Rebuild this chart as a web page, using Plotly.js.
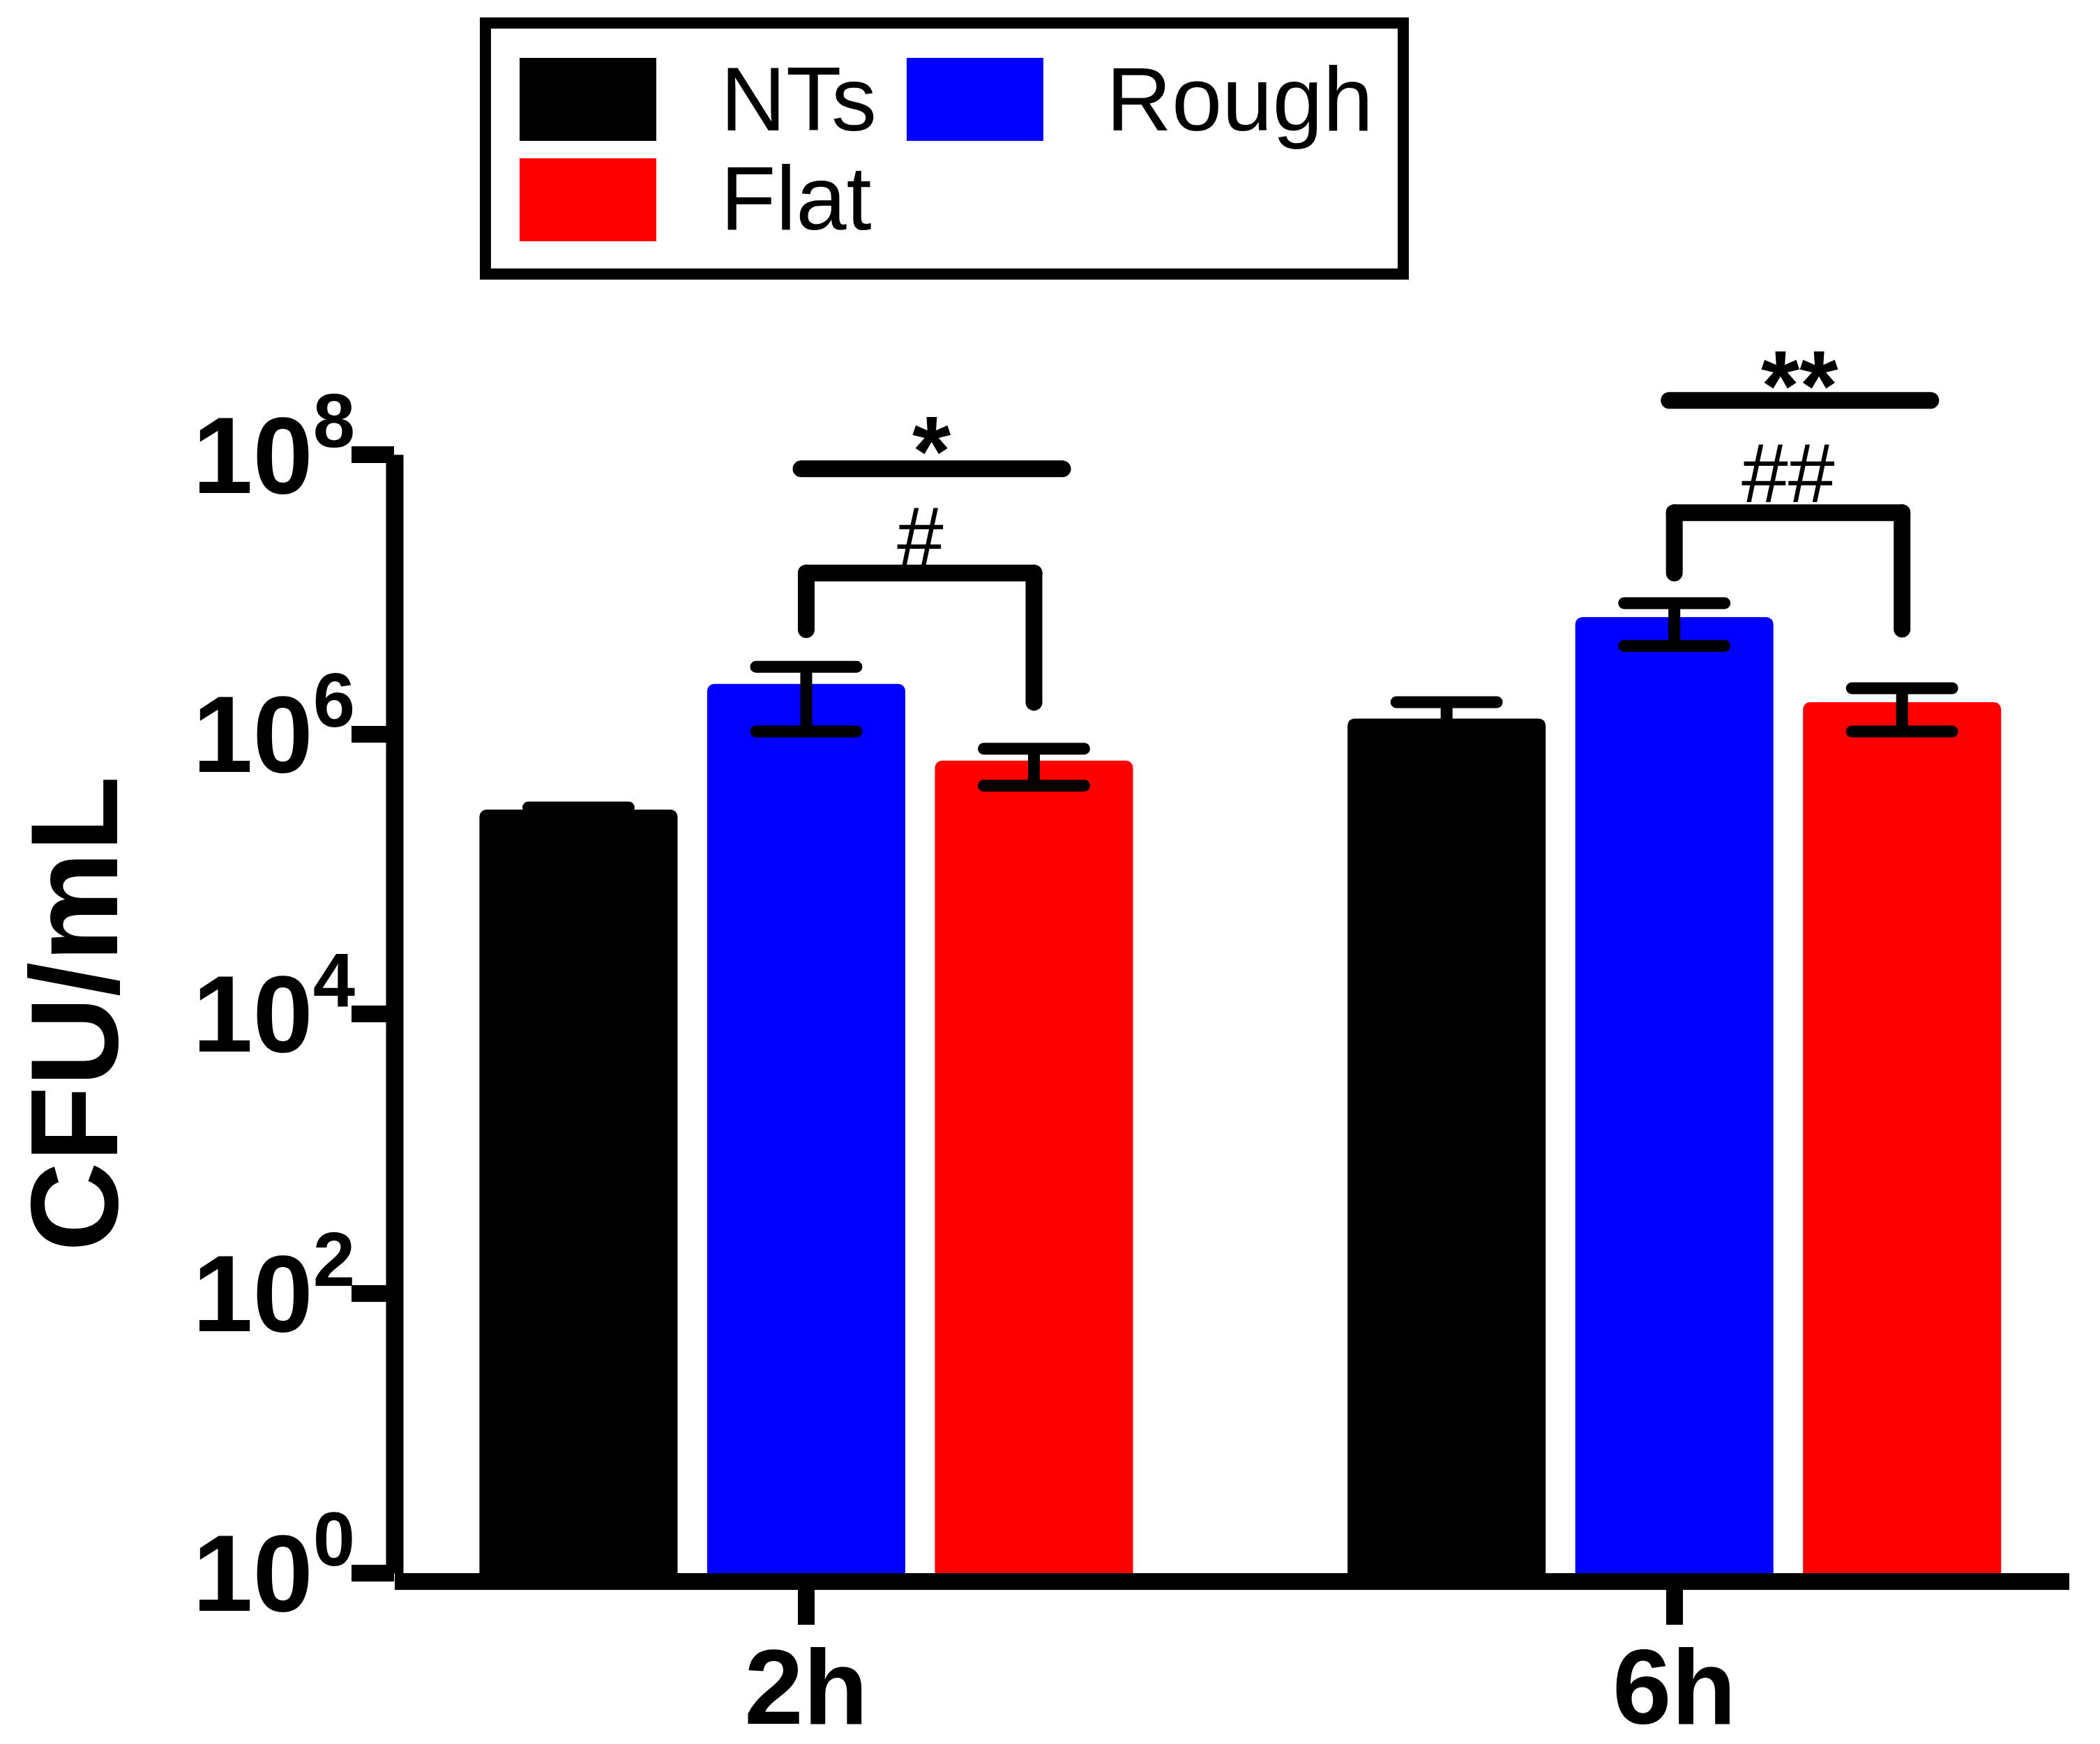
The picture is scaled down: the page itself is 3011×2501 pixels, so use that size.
<!DOCTYPE html>
<html>
<head>
<meta charset="utf-8">
<script src="https://cdn.plot.ly/plotly-3.0.1.min.js"></script>
<style>
  html, body { margin: 0; padding: 0; background: #fff; }
  .errorbar path { stroke-linecap: round; }
</style>
</head>
<body>
<div id="chart" style="width:3011px;height:2501px;"></div>
<script>
// data (CFU/mL, log axis)
var times = ["2h", "6h"];
var groups = ["NTs", "Rough", "Flat"];
var colours = ["#000000", "#0000ff", "#ff0000"];

var ntsMean = [2.9e5, 1.3e6];
var ntsPlus = [1.0e4, 4.0e5];
var ntsMinus = [1.0e4, 4.0e5];

var roughMean = [2.3e6, 6.9e6];
var roughPlus = [0.75e6, 1.8e6];
var roughMinus = [1.25e6, 2.6e6];

var flatMean = [6.5e5, 1.7e6];
var flatPlus = [1.4e5, 4.4e5];
var flatMinus = [2.2e5, 6.5e5];

var yTickVals = [1, 1e2, 1e4, 1e6, 1e8];
var yTickText = ["10<sup>0</sup>", "10<sup>2</sup>", "10<sup>4</sup>", "10<sup>6</sup>", "10<sup>8</sup>"];

// significance marks: [time index, left group, right group, text]
var bracketMarks = [[0, 1, 2, "#"], [1, 1, 2, "##"]];
var lineMarks = [[0, "*"], [1, "**"]];

var FONT = "Liberation Sans, Arial, sans-serif";

// plot box in pixels
var L = 566, R = 2967, B = 2256, T = 512;
var W = R - L, H = B - T;
function px(x) { return (x - L) / W; }
function py(y) { return (B - y) / H; }

var BARGAP = 0.213;
var slot = (1 - BARGAP) / 3;
function barX(t, g) { return t + (g - 1) * slot; }

function makeTrace(i, mean, plus, minus) {
  return {
    type: "bar",
    name: groups[i],
    x: times,
    y: mean,
    marker: { color: colours[i], line: { width: 0 } },
    error_y: {
      type: "data",
      symmetric: false,
      array: plus,
      arrayminus: minus,
      color: "#000",
      thickness: 17,
      width: 72
    },
    showlegend: false
  };
}

var traces = [
  makeTrace(0, ntsMean, ntsPlus, ntsMinus),
  makeTrace(1, roughMean, roughPlus, roughMinus),
  makeTrace(2, flatMean, flatPlus, flatMinus)
];

var shapes = [];
var annotations = [];

// y axis line, only up to 10^8
shapes.push({
  type: "line", xref: "paper", yref: "y",
  x0: 0, x1: 0, y0: 1, y1: 1e8,
  line: { color: "#000", width: 25 }
});

// brackets (#) — levels in log10 units, from the picture
var bracketTop = [7.155, 7.586];
var bracketLeftLow = [6.75, 7.155];
var bracketRightLow = [6.23, 6.753];
var bracketText = [7.42, 7.87];
bracketMarks.forEach(function (b, k) {
  var xa = barX(b[0], b[1]), xb = barX(b[0], b[2]);
  var top = Math.pow(10, bracketTop[k]);
  var st = { color: "#000", width: 24 };
  shapes.push({ type: "line", xref: "x", yref: "y", x0: xa, x1: xa, y0: Math.pow(10, bracketLeftLow[k]), y1: top, line: st });
  shapes.push({ type: "line", xref: "x", yref: "y", x0: xa, x1: xb, y0: top, y1: top, line: st });
  shapes.push({ type: "line", xref: "x", yref: "y", x0: xb, x1: xb, y0: top, y1: Math.pow(10, bracketRightLow[k]), line: st });
  annotations.push({
    xref: "x", yref: "y", x: (xa + xb) / 2, y: bracketText[k],
    text: b[3], showarrow: false, yanchor: "middle",
    font: { family: FONT, size: 120, color: "#000" }
  });
});

// star lines
var starLevel = [7.90, 8.39];
var starText = [8.03, 8.50];
lineMarks.forEach(function (s, k) {
  var xa = barX(s[0], 1) - 0.006, xb = barX(s[0], 2) + 0.033;
  var lv = Math.pow(10, starLevel[k]);
  shapes.push({ type: "line", xref: "x", yref: "y", x0: xa, x1: xb, y0: lv, y1: lv, line: { color: "#000", width: 24 } });
  annotations.push({
    xref: "x", yref: "y", x: (xa + xb) / 2, y: starText[k],
    text: s[1], showarrow: false, yanchor: "middle",
    font: { family: FONT, size: 142, color: "#000", weight: "bold" }
  });
});

// y axis title, centred on the 10^0..10^8 span
annotations.push({
  xref: "paper", yref: "paper", x: px(106), y: py(1454),
  xanchor: "center", yanchor: "middle", textangle: -90,
  text: "CFU/mL", showarrow: false,
  font: { family: FONT, size: 178, color: "#000", weight: "bold" }
});

// legend box drawn by hand (big swatches as in the picture)
shapes.push({
  type: "rect", xref: "paper", yref: "paper",
  x0: px(696), x1: px(2012), y0: py(33), y1: py(393),
  line: { color: "#000", width: 16 }, fillcolor: "rgba(0,0,0,0)"
});
var legPos = [[745, 83, 1031, 142], [1300, 83, 1584, 142], [745, 227, 1031, 284]];
groups.forEach(function (g, i) {
  var p = legPos[i];
  shapes.push({
    type: "rect", xref: "paper", yref: "paper",
    x0: px(p[0]), x1: px(p[0] + 196), y0: py(p[1]), y1: py(p[1] + 119),
    line: { width: 0 }, fillcolor: colours[i]
  });
  annotations.push({
    xref: "paper", yref: "paper", x: px(p[2]), y: py(p[3]),
    xanchor: "left", yanchor: "middle", text: g, showarrow: false,
    font: { family: FONT, size: 130, color: "#000" }
  });
});

var layout = {
  width: 3011,
  height: 2501,
  paper_bgcolor: "#fff",
  plot_bgcolor: "#fff",
  margin: { l: L, r: 3011 - R, t: T, b: 2501 - B },
  barmode: "group",
  bargap: BARGAP,
  bargroupgap: 0.13,
  barcornerradius: 10,
  showlegend: false,
  font: { family: FONT, color: "#000" },
  xaxis: {
    type: "category",
    range: [-0.474, 1.455],
    showline: true,
    linecolor: "#000",
    linewidth: 24,
    ticks: "outside",
    ticklen: 50,
    tickwidth: 24,
    tickcolor: "#000",
    ticklabelstandoff: -40,
    showgrid: false,
    zeroline: false,
    tickfont: { family: FONT, size: 152, color: "#000", weight: "bold" }
  },
  yaxis: {
    type: "log",
    range: [0, 8.7],
    tickvals: yTickVals,
    ticktext: yTickText,
    ticks: "outside",
    ticklen: 61,
    tickwidth: 24,
    tickcolor: "#000",
    ticklabelstandoff: -36,
    showline: false,
    showgrid: false,
    zeroline: false,
    tickfont: { family: FONT, size: 155, color: "#000", weight: "bold" }
  },
  shapes: shapes,
  annotations: annotations
};

Plotly.newPlot("chart", traces, layout, { staticPlot: true }).then(function () {
  // round caps on the significance lines, like the original
  document.querySelectorAll(".shapelayer path").forEach(function (p) {
    var idx = +p.getAttribute("data-index");
    if (idx > 0 && idx < 11) p.style.strokeLinecap = "round";
  });
});
</script>
</body>
</html>
